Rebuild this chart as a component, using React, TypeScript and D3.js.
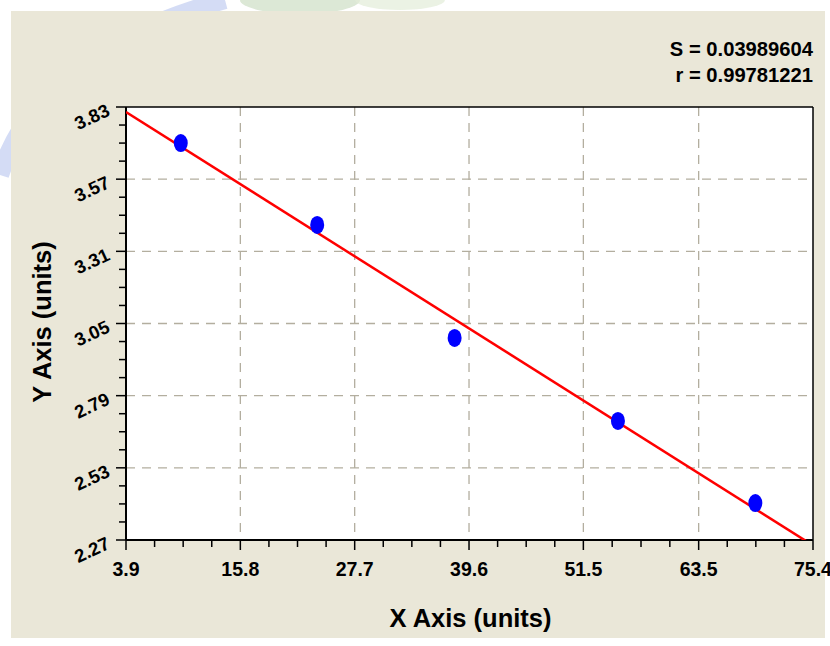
import React from "react";
import * as d3 from "d3";

const xValues = [9.6, 23.8, 38.1, 55.1, 69.4];
const yValues = [3.7, 3.405, 2.998, 2.699, 2.403];
const xTickLabels = ["3.9", "15.8", "27.7", "39.6", "51.5", "63.5", "75.4"];
const yTickLabels = ["2.27", "2.53", "2.79", "3.05", "3.31", "3.57", "3.83"];
const statLines = ["S = 0.03989604", "r = 0.99781221"];
const xTitle = "X Axis (units)";
const yTitle = "Y Axis (units)";

const W = 830;
const H = 646;
const M = { left: 126, top: 107, right: 813, bottom: 540 };
const FONT = "'Liberation Sans', Arial, sans-serif";

export default function App() {
  const xTicks = xTickLabels.map(Number);
  const yTicks = yTickLabels.map(Number);
  const x = d3.scaleLinear().domain([xTicks[0], xTicks[xTicks.length - 1]]).range([M.left, M.right]);
  const y = d3.scaleLinear().domain([yTicks[0], yTicks[yTicks.length - 1]]).range([M.bottom, M.top]);

  // minor ticks: 3 between majors
  const xMinor: number[] = [];
  for (let i = 0; i < xTicks.length - 1; i++) {
    const st = (xTicks[i + 1] - xTicks[i]) / 4;
    for (let j = 1; j < 4; j++) xMinor.push(xTicks[i] + st * j);
  }
  const yMinor: number[] = [];
  for (let i = 0; i < yTicks.length - 1; i++) {
    const st = (yTicks[i + 1] - yTicks[i]) / 4;
    for (let j = 1; j < 4; j++) yMinor.push(yTicks[i] + st * j);
  }

  // least squares fit
  const mx = d3.mean(xValues) as number;
  const my = d3.mean(yValues) as number;
  let sxy = 0, sxx = 0;
  xValues.forEach((v, i) => {
    sxy += (v - mx) * (yValues[i] - my);
    sxx += (v - mx) * (v - mx);
  });
  const slope = sxy / sxx;
  const intercept = my - slope * mx;
  const x0 = x.domain()[0];
  const x1 = x.domain()[1];
  const line = d3.line<[number, number]>().x((d) => x(d[0])).y((d) => y(d[1]));
  const fitPts: [number, number][] = [
    [x0, intercept + slope * x0],
    [x1, intercept + slope * x1],
  ];

  const gridColor = "#b3ae9f";

  return (
    <svg
      width={W}
      height={H}
      style={{ position: "absolute", left: 0, top: 0, background: "#ffffff" }}
    >
      <defs>
        <clipPath id="plotClip">
          <rect x={M.left} y={M.top} width={M.right - M.left} height={M.bottom - M.top} />
        </clipPath>
      </defs>
      {/* faint watermark */}
      <path d="M 0 175 Q 40 50 225 0" fill="none" stroke="#c9d3f3" strokeWidth={18} opacity={0.8} />
      <ellipse cx={300} cy={0} rx={60} ry={14} fill="#c4d8bb" opacity={0.6} />
      <ellipse cx={400} cy={0} rx={45} ry={10} fill="#e3ecd9" opacity={0.7} />
      {/* panel */}
      <rect x={11} y={11} width={814} height={627} fill="#eae7d8" />
      {/* plot area */}
      <rect x={M.left} y={M.top} width={M.right - M.left} height={M.bottom - M.top} fill="#ffffff" />
      {/* grid */}
      {xTicks.slice(1, -1).map((t, i) => (
        <line key={"gx" + i} x1={x(t)} x2={x(t)} y1={M.top} y2={M.bottom} stroke={gridColor} strokeWidth={1.3} strokeDasharray="9,7" />
      ))}
      {yTicks.slice(1, -1).map((t, i) => (
        <line key={"gy" + i} x1={M.left} x2={M.right} y1={y(t)} y2={y(t)} stroke={gridColor} strokeWidth={1.3} strokeDasharray="9,7" />
      ))}
      {/* frame */}
      <line x1={M.left} x2={M.right} y1={M.top} y2={M.top} stroke="#000" strokeWidth={1.5} />
      <line x1={M.right} x2={M.right} y1={M.top} y2={M.bottom} stroke="#000" strokeWidth={1.5} />
      <line x1={M.left} x2={M.left} y1={M.top} y2={M.bottom} stroke="#000" strokeWidth={2} />
      <line x1={M.left} x2={M.right} y1={M.bottom} y2={M.bottom} stroke="#000" strokeWidth={2} />
      {/* ticks */}
      {xTicks.map((t, i) => (
        <line key={"xt" + i} x1={x(t)} x2={x(t)} y1={M.bottom} y2={M.bottom + 10} stroke="#000" strokeWidth={1.5} />
      ))}
      {xMinor.map((t, i) => (
        <line key={"xm" + i} x1={x(t)} x2={x(t)} y1={M.bottom} y2={M.bottom + 7} stroke="#000" strokeWidth={1.5} />
      ))}
      {yTicks.map((t, i) => (
        <line key={"yt" + i} x1={M.left - 10} x2={M.left} y1={y(t)} y2={y(t)} stroke="#000" strokeWidth={1.5} />
      ))}
      {yMinor.map((t, i) => (
        <line key={"ym" + i} x1={M.left - 7} x2={M.left} y1={y(t)} y2={y(t)} stroke="#000" strokeWidth={1.5} />
      ))}
      {/* tick labels */}
      {xTickLabels.map((l, i) => (
        <text key={"xl" + i} x={x(xTicks[i])} y={576} textAnchor="middle" fontFamily={FONT} fontWeight="bold" fontSize={19.5} fill="#000">
          {l}
        </text>
      ))}
      {yTickLabels.map((l, i) => (
        <text
          key={"yl" + i}
          transform={`translate(${M.left - 15},${y(yTicks[i]) + 8}) rotate(-25)`}
          textAnchor="end"
          fontFamily={FONT}
          fontWeight="bold"
          fontSize={18.5}
          fill="#000"
        >
          {l}
        </text>
      ))}
      {/* fit line */}
      <g clipPath="url(#plotClip)">
        <path d={line(fitPts) || ""} fill="none" stroke="#ff0000" strokeWidth={2.5} />
      </g>
      {/* points */}
      {xValues.map((v, i) => (
        <ellipse key={"p" + i} cx={x(v)} cy={y(yValues[i])} rx={7} ry={9} fill="#0000ff" />
      ))}
      {/* stats */}
      {statLines.map((s, i) => (
        <text key={"s" + i} x={813} y={56 + i * 25.7} textAnchor="end" fontFamily={FONT} fontWeight="bold" fontSize={20.2} fill="#000">
          {s}
        </text>
      ))}
      {/* titles */}
      <text x={470.5} y={627} textAnchor="middle" fontFamily={FONT} fontWeight="bold" fontSize={25.5} fill="#000">
        {xTitle}
      </text>
      <text transform={`translate(51,322) rotate(-90)`} textAnchor="middle" fontFamily={FONT} fontWeight="bold" fontSize={25.5} fill="#000">
        {yTitle}
      </text>
    </svg>
  );
}
